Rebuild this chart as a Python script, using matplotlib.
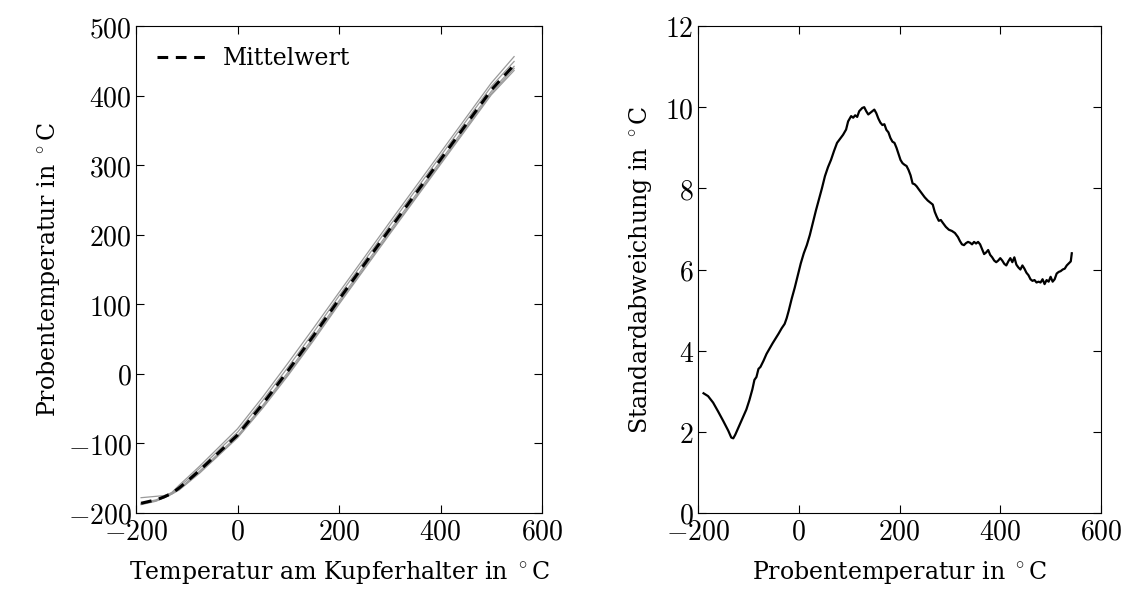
import matplotlib
matplotlib.use("Agg")
import matplotlib.pyplot as plt
from matplotlib.ticker import FuncFormatter, MultipleLocator

plt.rcParams['mathtext.fontset'] = 'cm'

# left panel: sample temperature vs. copper holder temperature
t_kupfer = [-190, -160, -145, -130, -115, -100, -75, -50, -25, 0, 50, 100, 150, 200, 300, 400, 500, 545]
mittelwert = [-186, -181, -177, -172, -164, -155, -139, -122, -105, -88, -43, 5, 55, 107, 208, 308, 408, 444]
proben = [
    [-178, -176, -175, -171, -160, -150, -133, -115, -97, -79, -33, 16, 66, 117, 218, 318, 418, 456],
    [-186, -181, -176, -171, -162, -153, -136, -119, -101, -84, -38, 10, 60, 112, 213, 313, 413, 449],
    [-187, -182, -177, -172, -165, -156, -140, -123, -106, -89, -45, 3, 53, 105, 206, 306, 406, 442],
    [-188, -183, -178, -173, -167, -158, -143, -126, -109, -92, -49, -2, 48, 100, 201, 301, 401, 436],
    [-187, -182, -178, -173, -166, -157, -141, -125, -108, -91, -47, 0, 50, 102, 203, 303, 403, 439],
]

# right panel: standard deviation vs. sample temperature
t_probe = [-189, -180, -170, -160, -150, -140, -134, -130, -126, -120, -112, -104, -98, -92, -88, -84,
           -80, -76, -70, -64, -58, -52, -46, -40, -34, -28, -24, -20, -14, -8, -2, 4, 10, 16, 22, 28,
           34, 40, 46, 52, 58, 64, 70, 76, 82, 88, 94, 98, 104, 108, 112, 116, 120, 126, 130, 134, 138,
           142, 146, 150, 154, 158, 162, 166, 170, 174, 178, 182, 186, 190, 194, 198, 202, 206, 210, 214,
           218, 222, 226, 230, 234, 238, 244, 250, 256, 262, 266, 270, 274, 278, 282, 286, 292, 298, 304,
           310, 316, 320, 324, 328, 332, 336, 340, 344, 348, 352, 356, 360, 364, 368, 372, 376, 380, 384,
           388, 392, 396, 400, 404, 408, 412, 416, 420, 424, 428, 432, 436, 440, 444, 448, 452, 456, 460,
           464, 468, 472, 476, 480, 484, 488, 492, 496, 500, 504, 508, 512, 516, 520, 524, 528, 532, 536,
           540, 542]
std_abw = [2.95, 2.88, 2.72, 2.50, 2.27, 2.03, 1.86, 1.84, 1.93, 2.10, 2.32, 2.55, 2.78, 3.05, 3.28, 3.35,
           3.55, 3.60, 3.75, 3.92, 4.05, 4.18, 4.30, 4.42, 4.55, 4.66, 4.80, 4.98, 5.28, 5.55, 5.85, 6.15,
           6.40, 6.60, 6.85, 7.15, 7.45, 7.72, 8.00, 8.30, 8.52, 8.70, 8.92, 9.12, 9.22, 9.32, 9.45, 9.65,
           9.78, 9.74, 9.80, 9.76, 9.90, 9.98, 10.00, 9.90, 9.82, 9.86, 9.90, 9.94, 9.85, 9.72, 9.62, 9.56,
           9.58, 9.44, 9.38, 9.24, 9.15, 9.12, 9.00, 8.85, 8.70, 8.62, 8.58, 8.55, 8.45, 8.32, 8.12, 8.10,
           8.05, 7.98, 7.88, 7.78, 7.70, 7.64, 7.60, 7.42, 7.30, 7.20, 7.22, 7.15, 7.05, 6.98, 6.95, 6.90,
           6.80, 6.70, 6.62, 6.60, 6.65, 6.68, 6.66, 6.62, 6.68, 6.64, 6.68, 6.62, 6.50, 6.38, 6.42, 6.48,
           6.36, 6.30, 6.22, 6.18, 6.22, 6.28, 6.22, 6.14, 6.10, 6.20, 6.28, 6.18, 6.30, 6.12, 6.05, 6.00,
           6.10, 6.02, 5.92, 5.86, 5.76, 5.72, 5.74, 5.68, 5.70, 5.68, 5.76, 5.64, 5.74, 5.70, 5.82, 5.70,
           5.76, 5.90, 5.94, 5.96, 6.00, 6.02, 6.10, 6.15, 6.20, 6.40]

W, H = 1126, 593
fig = plt.figure(figsize=(W / 100, H / 100), dpi=100)
ax1 = fig.add_axes([136 / W, 1 - 513 / H, 406 / W, 487 / H])
ax2 = fig.add_axes([698 / W, 1 - 513 / H, 403 / W, 487 / H])

label_font = dict(family='DejaVu Serif', fontsize=17)
math_fmt = FuncFormatter(lambda v, p: r'$\mathrm{%g}$' % v if v >= 0 else r'$-\mathrm{%g}$' % -v)

for p in proben:
    ax1.plot(t_kupfer, p, color='#9a9a9a', lw=0.9)
ax1.plot(t_kupfer, mittelwert, color='black', lw=2.2, dashes=(3.5, 2.5), label='Mittelwert')
ax1.set_xlim(-200, 600)
ax1.set_ylim(-200, 500)
ax1.yaxis.set_major_locator(MultipleLocator(100))
ax1.set_xlabel(r'Temperatur am Kupferhalter in $^\circ$C', labelpad=10, **label_font)
ax1.set_ylabel(r'Probentemperatur in $^\circ$C', labelpad=4, **label_font)
leg = ax1.legend(loc='upper left', frameon=False, handlelength=2.2, handletextpad=0.6,
                 borderaxespad=0.5, prop={'family': 'DejaVu Serif', 'size': 17})

ax2.plot(t_probe, std_abw, color='black', lw=1.6)
ax2.set_xlim(-200, 600)
ax2.set_ylim(0, 12)
ax2.yaxis.set_major_locator(MultipleLocator(2))
ax2.set_xlabel(r'Probentemperatur in $^\circ$C', labelpad=10, **label_font)
ax2.set_ylabel(r'Standardabweichung in $^\circ$C', labelpad=8, **label_font)

for ax in (ax1, ax2):
    ax.xaxis.set_major_locator(MultipleLocator(200))
    ax.xaxis.set_major_formatter(math_fmt)
    ax.yaxis.set_major_formatter(math_fmt)
    ax.tick_params(direction='in', top=True, right=True, length=6, width=0.8,
                   labelsize=20, pad=3)
    for s in ax.spines.values():
        s.set_linewidth(0.8)

fig.savefig('out.png', dpi=100)
